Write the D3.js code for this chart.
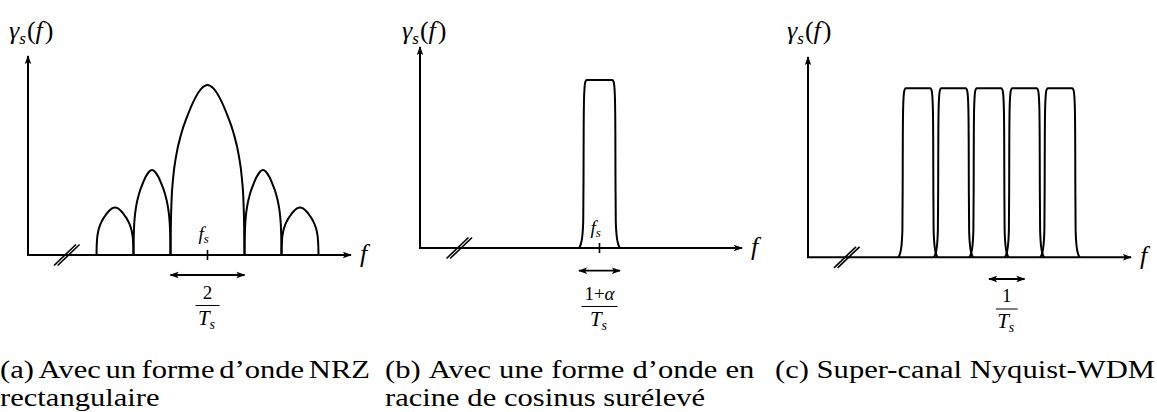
<!DOCTYPE html>
<html>
<head>
<meta charset="utf-8">
<script src="https://cdn.jsdelivr.net/npm/d3@7/dist/d3.min.js"></script>
<style>
    body { margin: 0; background: #fff; }
    svg text { font-family: "Liberation Serif", "Times New Roman", "DejaVu Serif", serif; fill: #000; }
    .curve { fill: none; stroke: #000; stroke-width: 2; }
    .ax { stroke: #000; stroke-width: 2; }
</style>
</head>
<body>
<svg id="chart" width="1157" height="412"></svg>
<script>
'use strict';

// frequencies are normalised: (f - fs) * Ts, heights relative to the peak

// (a) NRZ: one lobe between each pair of nulls
var nrzLobeStart = [-3, -2, -1, 1, 2];
var nrzLobeEnd   = [-2, -1, 1, 2, 3];
var nrzLobePeak  = [0.28, 0.5, 1.0, 0.5, 0.28];

// half-lobe profile: u = 0 at the null, 1 at the lobe centre
var lobeU = [0, 0.008, 0.025, 0.07, 0.15, 0.3, 0.46, 0.66, 0.84, 1];
var lobeH = [0, 0.15, 0.3, 0.45, 0.58, 0.72, 0.82, 0.92, 0.98, 1];

// (b) one root raised cosine channel, (c) five of them side by side
var rrcCentres = [0];
var wdmCentres = [-2, -1, 0, 1, 2];
var rollOff = 0.11;

// pulse edge: distance from the channel centre, height
var edgeD = [0.555, 0.51, 0.465, 0.44, 0.432, 0.428, 0.42, 0.405, 0.38, 0.345];
var edgeH = [0, 0.02, 0.07, 0.16, 0.4, 0.7, 0.87, 0.95, 0.99, 1];

var captionLines = [
    { words: ['(a)', 'Avec', 'un', 'forme', 'd\u2019onde', 'NRZ'], x: 0, y: 378, w: 370, just: true },
    { words: ['rectangulaire'], x: 0, y: 406, just: false },
    { words: ['(b)', 'Avec', 'une', 'forme', 'd\u2019onde', 'en'], x: 385, y: 378, w: 370, just: true },
    { words: ['racine', 'de', 'cosinus', 'sur\u00e9lev\u00e9'], x: 385, y: 406, just: false },
    { words: ['(c)', 'Super-canal', 'Nyquist-WDM'], x: 775, y: 378, w: 380, just: true }
];

var svg = d3.select('#chart');
var defs = svg.append('defs');

defs.append('marker')
    .attr('id', 'arrow')
    .attr('viewBox', '0 -5 10 10')
    .attr('refX', 9)
    .attr('refY', 0)
    .attr('markerUnits', 'userSpaceOnUse')
    .attr('markerWidth', 9)
    .attr('markerHeight', 9)
    .attr('orient', 'auto-start-reverse')
    .append('path')
    .attr('d', 'M0,-3.6 L10,0 L0,3.6 L2.2,0 Z')
    .attr('fill', '#000');

// panel layout (pixels)
var panels = [
    { x0: 28,  xEnd: 351,  yTop: 56, base: 255,   centre: 207.5, unit: 37,   peakY: 85,   brk: 67,    label: 9 },
    { x0: 420, xEnd: 742,  yTop: 47, base: 248,   centre: 599.5, unit: 37,   peakY: 80,   brk: 459.5, label: 402 },
    { x0: 808, xEnd: 1131, yTop: 57, base: 257.3, centre: 989,   unit: 35.5, peakY: 88.3, brk: 847,   label: 787 }
];

panels.forEach(function (p) {
    p.x = d3.scaleLinear().domain([0, 1]).range([p.centre, p.centre + p.unit]);
    p.y = d3.scaleLinear().domain([0, 1]).range([p.base, p.peakY]);
    p.g = svg.append('g');
});

function line(p) {
    return d3.line()
        .x(function (d) { return p.x(d[0]); })
        .y(function (d) { return p.y(d[1]); })
        .curve(d3.curveMonotoneX);
}

function lobePoints(start, end, peak) {
    var half = (end - start) / 2;
    var left = lobeU.map(function (u, i) { return [start + u * half, peak * lobeH[i]]; });
    var right = lobeU.slice(0, -1).map(function (u, i) { return [end - u * half, peak * lobeH[i]]; }).reverse();
    return left.concat(right);
}

function pulsePoints(c) {
    var left = edgeD.map(function (d, i) { return [c - d, edgeH[i]]; });
    var right = edgeD.map(function (d, i) { return [c + d, edgeH[i]]; }).reverse();
    return left.concat(right);
}

function drawAxes(p) {
    p.g.append('line').attr('class', 'ax')
        .attr('x1', p.x0).attr('y1', p.base).attr('x2', p.x0).attr('y2', p.yTop)
        .attr('marker-end', 'url(#arrow)');
    p.g.append('line').attr('class', 'ax')
        .attr('x1', p.x0 - 1).attr('y1', p.base).attr('x2', p.xEnd).attr('y2', p.base)
        .attr('marker-end', 'url(#arrow)');

    // axis break
    [-2, 1.6].forEach(function (off) {
        p.g.append('line')
            .attr('stroke', '#000').attr('stroke-width', 1.6)
            .attr('x1', p.brk + off - 11).attr('y1', p.base + 10.5)
            .attr('x2', p.brk + off + 11).attr('y2', p.base - 10.5);
    });

    var yl = p.g.append('text').attr('x', p.label).attr('y', 39).style('font-size', '26px');
    yl.append('tspan').style('font-style', 'italic').text('\u03b3');
    yl.append('tspan').style('font-style', 'italic').style('font-size', '17px').attr('dy', 5).text('s');
    yl.append('tspan').attr('dy', -5).attr('dx', 1).text('(');
    yl.append('tspan').style('font-style', 'italic').text('f');
    yl.append('tspan').attr('dx', 2).text(')');

    p.g.append('text')
        .attr('x', p.xEnd + 9).attr('y', p.base + 7)
        .style('font-size', '26px').style('font-style', 'italic')
        .text('f');
}

function drawFs(p, yText) {
    p.g.append('line').attr('stroke', '#000').attr('stroke-width', 1.6)
        .attr('x1', p.x(0)).attr('x2', p.x(0))
        .attr('y1', p.base - 5).attr('y2', p.base + 5);
    var t = p.g.append('text').attr('x', p.x(0) - 9).attr('y', yText)
        .style('font-size', '19px').style('font-style', 'italic');
    t.append('tspan').text('f');
    t.append('tspan').style('font-size', '13px').attr('dy', 3).text('s');
}

function drawSpan(p, from, to, yArrow, numerator, xc, yNum, yBar, barW) {
    p.g.append('line')
        .attr('stroke', '#000').attr('stroke-width', 1.8)
        .attr('x1', p.x(from)).attr('x2', p.x(to))
        .attr('y1', yArrow).attr('y2', yArrow)
        .attr('marker-start', 'url(#arrow)')
        .attr('marker-end', 'url(#arrow)');

    var num = p.g.append('text')
        .attr('x', xc).attr('y', yNum)
        .attr('text-anchor', 'middle')
        .style('font-size', '19px');
    numerator.forEach(function (n) {
        num.append('tspan').style('font-style', n.it ? 'italic' : 'normal').text(n.t);
    });

    p.g.append('line').attr('stroke', '#000').attr('stroke-width', 1)
        .attr('x1', xc - barW / 2).attr('x2', xc + barW / 2)
        .attr('y1', yBar).attr('y2', yBar);

    var den = p.g.append('text')
        .attr('x', xc - 1).attr('y', yBar + 19)
        .attr('text-anchor', 'middle')
        .style('font-size', '21px').style('font-style', 'italic');
    den.append('tspan').text('T');
    den.append('tspan').style('font-size', '14px').attr('dy', 4).text('s');
}

// (a)
var pa = panels[0];
drawAxes(pa);
nrzLobeStart.forEach(function (s, i) {
    pa.g.append('path').attr('class', 'curve')
        .attr('d', line(pa)(lobePoints(s, nrzLobeEnd[i], nrzLobePeak[i])));
});
drawFs(pa, 240);
drawSpan(pa, -1, 1, 275, [{ t: '2' }], pa.x(0), 299, 305.5, 24);

// (b)
var pb = panels[1];
drawAxes(pb);
rrcCentres.forEach(function (c) {
    pb.g.append('path').attr('class', 'curve')
        .attr('d', line(pb)(pulsePoints(c)));
});
drawFs(pb, 234);
drawSpan(pb, -(1 + rollOff) / 2, (1 + rollOff) / 2, 270.7,
    [{ t: '1' }, { t: '+' }, { t: '\u03b1', it: true }], pb.x(0), 300, 306.5, 36);

// (c)
var pc = panels[2];
drawAxes(pc);
wdmCentres.forEach(function (c) {
    pc.g.append('path').attr('class', 'curve')
        .attr('d', line(pc)(pulsePoints(c)));
});
drawSpan(pc, 0, 1, 279, [{ t: '1' }], pc.x(0.5), 302, 309, 22);

// captions, justified like the LaTeX source
var capSize = 25;

function drawCaptions() {
    var groups = captionLines.map(function (ln) {
        var g = svg.append('g').attr('transform', 'translate(' + ln.x + ',' + ln.y + ')');
        var texts = ln.words.map(function (w) {
            return g.append('text').attr('x', 0).attr('y', 0)
                .style('font-size', capSize + 'px')
                .text(w);
        });
        var widths = texts.map(function (t) { return t.node().getBBox().width; });
        return { g: g, texts: texts, widths: widths };
    });

    var spaceW = capSize * 0.25;
    var last = groups[4];
    var natural = d3.sum(last.widths) + spaceW * (last.widths.length - 1);
    var sx = natural > 0 ? captionLines[4].w / natural : 1;

    groups.forEach(function (grp, k) {
        var ln = captionLines[k];
        var gap = spaceW;
        if (ln.just && grp.widths.length > 1) {
            gap = (ln.w / sx - d3.sum(grp.widths)) / (grp.widths.length - 1);
        }
        grp.g.attr('transform', 'translate(' + ln.x + ',' + ln.y + ') scale(' + sx + ',1)');
        var cx = 0;
        grp.texts.forEach(function (t, i) {
            t.attr('x', cx);
            cx += grp.widths[i] + gap;
        });
    });
}

drawCaptions();
</script>
</body>
</html>
